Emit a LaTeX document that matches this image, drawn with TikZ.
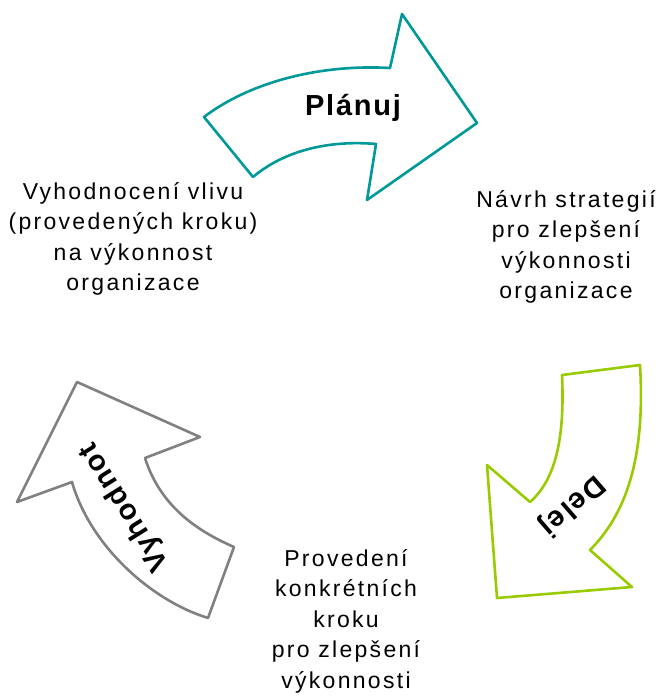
\documentclass[tikz,border=0pt]{standalone}
\usepackage{fontspec}
\setmainfont{Liberation Sans}
\newfontfamily\notefont[LetterSpace=10]{Liberation Sans}
\newfontfamily\stepfont[LetterSpace=6]{Liberation Sans Bold}
\definecolor{plan}{HTML}{009999}
\definecolor{act}{HTML}{99CC00}
\definecolor{check}{HTML}{808080}
\tikzset{
  cyclearrow/.style={line width=2.6pt, fill=white, line join=round},
  steplbl/.style={font=\stepfont\fontsize{29}{32}\selectfont, inner sep=0pt},
  note/.style={align=center, inner sep=0pt, font=\notefont\fontsize{23}{30.5}\selectfont},
}

\begin{document}
\begin{tikzpicture}[x=1pt, y=-1pt]
    \useasboundingbox (0,0) rectangle (657,698);
    % Planuj
    \draw[cyclearrow, draw=plan] (204,117) .. controls (250,82) and (320,64) .. (390,68) -- (402,14) -- (477,123)
      -- (367,200) -- (376,144) .. controls (330,140) and (285,150) .. (253,177) -- cycle;
    % Delej
    \draw[cyclearrow, draw=act] (562,375) -- (640,365) .. controls (645,450) and (630,510) .. (590,550) -- (632,587)
      -- (497,598) -- (487,465) -- (530,502) .. controls (555,480) and (565,440) .. (562,375) -- cycle;
    % Vyhodnot
    \draw[cyclearrow, draw=check] (77,382) -- (200,437) -- (145,458) .. controls (160,505) and (195,530) .. (234,547)
      -- (208,618) .. controls (150,600) and (90,545) .. (72,482) -- (17,502) -- cycle;
    \node[steplbl] (plan) at (353,108) {Plánuj};
    \node[steplbl, rotate=-139] (act) at (572,505) {Delej};
    \node[steplbl, rotate=122] (check) at (125,507) {Vyhodnot};
    \node[note] (eval) at (133,239) {Vyhodnocení vlivu\\(provedených kroku)\\na výkonnost\\organizace};
    \node[note] (strat) at (566,247) {Návrh strategií\\pro zlepšení\\výkonnosti\\organizace};
    \node[note] (steps) at (346,621) {Provedení\\konkrétních\\kroku\\pro zlepšení\\výkonnosti};
  \end{tikzpicture}
\end{document}
